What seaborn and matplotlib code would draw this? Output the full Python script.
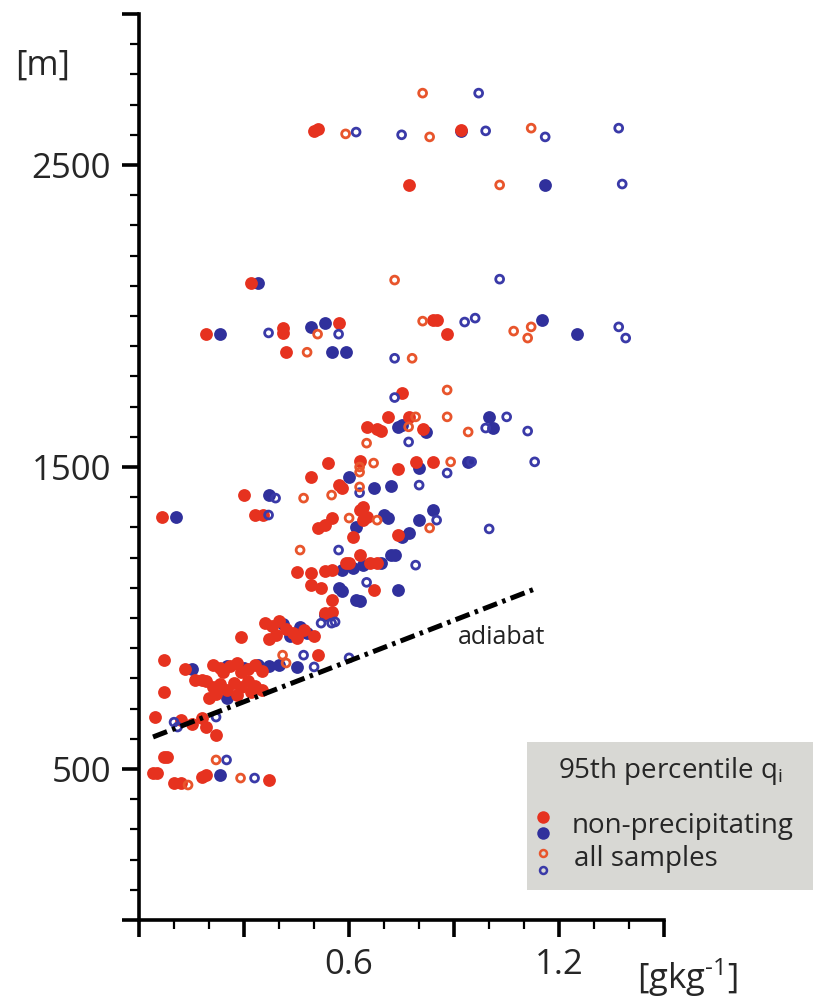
import numpy as np
import pandas as pd
import matplotlib
matplotlib.use("Agg")
import matplotlib.pyplot as plt
from matplotlib.lines import Line2D
from matplotlib.patches import Rectangle
from matplotlib.ticker import FixedLocator, MultipleLocator
import seaborn as sns

# 95th percentile qi [g/kg] vs height [m]
np_red_q = [0.50, 0.51, 0.92, 0.77, 0.32, 0.19, 0.41, 0.41, 0.57, 0.84, 0.85, 0.88, 0.42,
            0.75, 0.71, 0.77, 0.65, 0.68, 0.69, 0.81, 0.54, 0.63, 0.74, 0.79, 0.84, 0.57,
            0.58, 0.30, 0.49, 0.065, 0.33, 0.355, 0.51, 0.53, 0.55, 0.63, 0.64, 0.65, 0.64,
            0.61, 0.74, 0.63, 0.59, 0.60, 0.66, 0.68, 0.45, 0.49, 0.53, 0.55, 0.49, 0.52,
            0.67, 0.55, 0.53, 0.55, 0.29, 0.36, 0.38, 0.40, 0.42, 0.44, 0.47, 0.39, 0.45,
            0.50, 0.37, 0.07, 0.13, 0.16, 0.18, 0.21, 0.23, 0.26, 0.28, 0.31, 0.33, 0.35,
            0.24, 0.29, 0.51, 0.19, 0.21, 0.23, 0.25, 0.27, 0.29, 0.31, 0.33, 0.35, 0.22,
            0.28, 0.32, 0.20, 0.07, 0.046, 0.12, 0.15, 0.18, 0.19, 0.22, 0.07, 0.08, 0.04,
            0.05, 0.10, 0.12, 0.18, 0.19, 0.37]
np_red_z = [2613, 2618, 2616, 2434, 2109, 1940, 1960, 1944, 1977, 1987, 1987, 1940, 1880,
            1745, 1666, 1666, 1633, 1626, 1620, 1626, 1513, 1520, 1493, 1517, 1517, 1440,
            1430, 1407, 1467, 1334, 1341, 1341, 1298, 1308, 1331, 1358, 1368, 1334, 1325,
            1268, 1275, 1209, 1182, 1182, 1182, 1182, 1152, 1150, 1155, 1158, 1109, 1099,
            1093, 1060, 1016, 1020, 937, 985, 975, 990, 965, 950, 960, 945, 935,
            940, 930, 861, 831, 795, 795, 845, 835, 840, 850, 830, 845, 825,
            820, 820, 877, 790, 770, 780, 760, 785, 770, 790, 775, 760, 750,
            745, 755, 735, 755, 672, 662, 650, 670, 640, 613, 540, 540, 487,
            487, 454, 454, 473, 480, 464]

np_blue_q = [0.92, 1.16, 0.34, 0.23, 0.49, 0.53, 1.15, 1.25, 0.55, 0.59, 1.00, 0.74, 0.75,
             0.82, 1.01, 0.80, 0.94, 0.60, 0.67, 0.72, 0.37, 0.106, 0.62, 0.70, 0.71, 0.80,
             0.84, 0.75, 0.77, 0.69, 0.72, 0.73, 0.58, 0.61, 0.64, 0.57, 0.58, 0.74, 0.62,
             0.63, 0.53, 0.41, 0.46, 0.48, 0.43, 0.15, 0.45, 0.25, 0.30, 0.34, 0.37, 0.40,
             0.25, 0.23]
np_blue_z = [2612, 2434, 2109, 1940, 1964, 1977, 1987, 1940, 1880, 1880, 1666, 1633, 1640,
             1616, 1629, 1497, 1517, 1467, 1430, 1437, 1407, 1334, 1301, 1341, 1331, 1324,
             1358, 1268, 1280, 1182, 1209, 1209, 1158, 1165, 1175, 1100, 1090, 1093, 1060,
             1055, 1010, 980, 970, 950, 940, 831, 838, 840, 835, 845, 840, 845,
             735, 480]

all_red_q = [0.81, 0.59, 0.83, 1.12, 1.03, 0.73, 0.51, 0.81, 1.07, 1.12, 1.11, 0.48, 0.78,
             0.88, 0.79, 0.88, 0.77, 0.94, 0.65, 0.67, 0.89, 0.63, 0.63, 0.63, 0.55, 0.47,
             0.60, 0.68, 0.83, 0.46, 0.41, 0.42, 0.22, 0.29, 0.14]
all_red_z = [2738, 2603, 2593, 2622, 2434, 2119, 1940, 1983, 1950, 1964, 1927, 1880, 1860,
             1755, 1666, 1666, 1633, 1616, 1579, 1513, 1517, 1500, 1483, 1434, 1407, 1397,
             1331, 1324, 1298, 1225, 877, 851, 530, 470, 447]

all_blue_q = [0.97, 0.62, 0.75, 0.99, 1.16, 1.37, 1.38, 1.03, 0.37, 0.57, 0.93, 0.96, 1.37,
              1.39, 0.73, 0.73, 1.05, 0.99, 1.11, 0.77, 0.95, 1.13, 0.88, 0.63, 0.80, 0.39,
              0.37, 0.85, 1.00, 0.57, 0.79, 0.65, 0.56, 0.52, 0.55, 0.47, 0.50, 0.60, 0.10,
              0.11, 0.22, 0.25, 0.33]
all_blue_z = [2738, 2609, 2600, 2613, 2593, 2622, 2437, 2122, 1944, 1940, 1980, 1993, 1964,
              1927, 1860, 1730, 1666, 1629, 1619, 1583, 1517, 1517, 1480, 1415, 1440, 1397,
              1341, 1324, 1295, 1225, 1175, 1118, 987, 983, 983, 877, 838, 868, 655,
              639, 672, 530, 470]

adiabat_q = [0.04, 1.13]
adiabat_z = [606, 1096]

RED = "#e6321f"
BLUE = "#30309c"
RED_OPEN = "#e8552c"
BLUE_OPEN = "#3a3aa8"

df = pd.concat([
    pd.DataFrame({"q": np_blue_q, "z": np_blue_z, "grp": "np_blue"}),
    pd.DataFrame({"q": np_red_q, "z": np_red_z, "grp": "np_red"}),
    pd.DataFrame({"q": all_blue_q, "z": all_blue_z, "grp": "all_blue"}),
    pd.DataFrame({"q": all_red_q, "z": all_red_z, "grp": "all_red"}),
])

sns.set_style("ticks")
plt.rcParams["font.family"] = ["Open Sans", "DejaVu Sans"]
plt.rcParams["mathtext.fontset"] = "custom"
plt.rcParams["mathtext.rm"] = "Open Sans"
plt.rcParams["mathtext.it"] = "Open Sans"

fig = plt.figure(figsize=(8.13, 10), dpi=100)
ax = fig.add_axes([0.171, 0.08, 0.646, 0.906])

# filled = non-precipitating, open = all samples
sns.scatterplot(data=df[df.grp == "np_blue"], x="q", y="z", ax=ax, color=BLUE,
                s=85, linewidth=0, legend=False)
sns.scatterplot(data=df[df.grp == "np_red"], x="q", y="z", ax=ax, color=RED,
                s=85, linewidth=0, legend=False)
sns.scatterplot(data=df[df.grp == "all_blue"], x="q", y="z", ax=ax, facecolor="none",
                edgecolor=BLUE_OPEN, s=32, linewidth=2.0, legend=False)
sns.scatterplot(data=df[df.grp == "all_red"], x="q", y="z", ax=ax, facecolor="none",
                edgecolor=RED_OPEN, s=32, linewidth=2.0, legend=False)

# adiabat
ax.plot(adiabat_q, adiabat_z, color="black", lw=3.6,
        linestyle=(0, (3.0, 1.1, 0.7, 1.1)), solid_capstyle="butt", dash_capstyle="butt")
ax.text(0.91, 934, "adiabat", fontsize=18, ha="left", va="center", color="#222222")

ax.set_xlim(0, 1.5)
ax.set_ylim(0, 3000)
sns.despine(ax=ax)
for sp in ["left", "bottom"]:
    ax.spines[sp].set_linewidth(2.6)
    ax.spines[sp].set_color("black")

ax.xaxis.set_major_locator(FixedLocator([0, 0.3, 0.6, 0.9, 1.2, 1.5]))
ax.set_xticklabels(["", "", "0.6", "", "1.2", ""])
ax.xaxis.set_minor_locator(MultipleLocator(0.1))
ax.yaxis.set_major_locator(FixedLocator([0, 500, 1500, 2500, 3000]))
ax.set_yticklabels(["", "500", "1500", "2500", ""])
ax.yaxis.set_minor_locator(MultipleLocator(100))
ax.tick_params(which="major", direction="out", length=12, width=2.6, labelsize=25,
               pad=8, color="black")
ax.tick_params(which="minor", direction="out", length=6.5, width=1.6, color="black")
ax.set_xlabel("")
ax.set_ylabel("")

fig.text(15 / 813, 1 - 66 / 1000, "[m]", fontsize=25, ha="left", va="center")
fig.text(637 / 813, 1 - 978 / 1000, r"[gkg$^{\text{-1}}$]", fontsize=25,
         ha="left", va="center")

# legend box
fig.patches.append(Rectangle((527 / 813, 1 - 890 / 1000), (813 - 527) / 813, 148 / 1000,
                             transform=fig.transFigure, facecolor="#d8d8d4",
                             edgecolor="none", zorder=0))
fig.text(558 / 813, 1 - 771 / 1000, r"95th percentile q$_{\mathregular{i}}$", fontsize=20,
         ha="left", va="center")
fig.text(572 / 813, 1 - 826 / 1000, "non-precipitating", fontsize=20, ha="left", va="center")
fig.text(574 / 813, 1 - 859 / 1000, "all samples", fontsize=20, ha="left", va="center")
for (yy, c, filled) in [(817, RED, True), (833, BLUE, True),
                        (853, RED_OPEN, False), (870, BLUE_OPEN, False)]:
    if filled:
        m = Line2D([543 / 813], [1 - yy / 1000], marker="o", markersize=9, color=c,
                   markeredgewidth=0, linestyle="none", transform=fig.transFigure)
    else:
        m = Line2D([543 / 813], [1 - yy / 1000], marker="o", markersize=5, color=c,
                   markerfacecolor="none", markeredgewidth=1.8, linestyle="none",
                   transform=fig.transFigure)
    fig.add_artist(m)

fig.savefig("out.png", dpi=100)
